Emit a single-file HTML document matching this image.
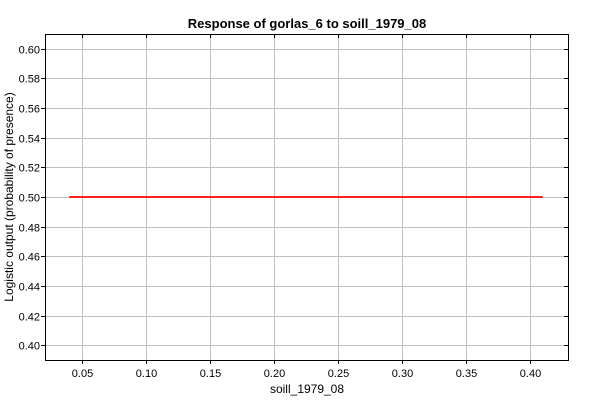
<!DOCTYPE html>
<html><head><meta charset="utf-8"><style>
body{margin:0;background:#fff;}
svg text{font-family:"Liberation Sans",sans-serif;}
</style></head><body>
<svg id="chart" width="600" height="400">
<rect width="600" height="400" fill="#fff"/>
<text x="307" y="28" text-anchor="middle" font-size="13" font-weight="bold">Response of gorlas_6 to soill_1979_08</text>
<text x="307" y="393" text-anchor="middle" font-size="12">soill_1979_08</text>
<text transform="translate(13,197) rotate(-90)" text-anchor="middle" font-size="12">Logistic output (probability of presence)</text>
<g id="grid"></g>
<g id="marks"></g>
<rect x="45.5" y="34.5" width="523" height="326" fill="none" stroke="#000"/>
</svg>
<script>
const xTicks=[0.05,0.10,0.15,0.20,0.25,0.30,0.35,0.40];
const yTicks=[0.40,0.42,0.44,0.46,0.48,0.50,0.52,0.54,0.56,0.58,0.60];
const xValues=[0.04,0.41];
const yValues=[0.5,0.5];
const L=45,R=568,T=34,B=360,x0=0.0211,x1=0.4297,y0=0.39,y1=0.61;
const sx=v=>L+(v-x0)/(x1-x0)*(R-L);
const sy=v=>B-(v-y0)/(y1-y0)*(B-T);
const NS='http://www.w3.org/2000/svg';
const g=document.getElementById('grid'),m=document.getElementById('marks');
function el(t,a,p){const e=document.createElementNS(NS,t);for(const k in a)e.setAttribute(k,a[k]);p.appendChild(e);return e;}
xTicks.forEach(v=>{const x=Math.round(sx(v))+0.5;
const gl=el('line',{x1:x,x2:x,y1:T,y2:B,stroke:'#c0c0c0'},g);


el('line',{x1:x,x2:x,y1:B,y2:B+4,stroke:'#000'},g);
el('line',{x1:x,x2:x,y1:T,y2:T+4,stroke:'#000'},g);
const t=el('text',{x:x,y:B+17,'text-anchor':'middle','font-size':11},g);t.textContent=v.toFixed(2);


});
yTicks.forEach(v=>{const y=Math.round(sy(v))+0.5;
const gl=el('line',{x1:L,x2:R,y1:y,y2:y,stroke:'#c0c0c0'},g);


el('line',{x1:L-4,x2:L,y1:y,y2:y,stroke:'#000'},g);
el('line',{x1:R-4,x2:R,y1:y,y2:y,stroke:'#000'},g);
const t=el('text',{x:L-5,y:y+4,'text-anchor':'end','font-size':11},g);t.textContent=v.toFixed(2);


});
const pts=xValues.map((v,i)=>sx(v)+','+sy(yValues[i])).join(' ');
const line=el('polyline',{points:pts,fill:'none',stroke:'#ff2020','stroke-width':2},m);


</script>
</body></html>
